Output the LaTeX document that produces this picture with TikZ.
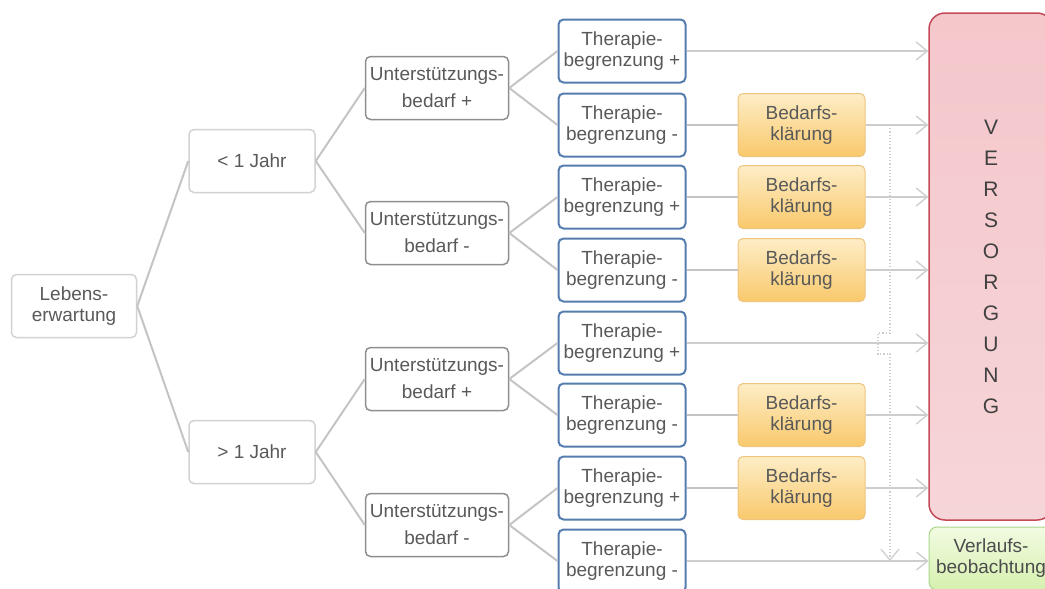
\documentclass[tikz,border=0pt]{standalone}
\usepackage{fontspec}
\setmainfont{Liberation Sans}
\usetikzlibrary{arrows.meta}
\usetikzlibrary{positioning}

\definecolor{txtgrey}{HTML}{595959}
\definecolor{linegrey}{HTML}{C4C4C4}
\definecolor{arrowgrey}{HTML}{CDCDCD}
\definecolor{lightframe}{HTML}{D2D2D2}
\definecolor{darkframe}{HTML}{8E8E8E}
\definecolor{blueframe}{HTML}{557CAE}
\definecolor{bedtop}{HTML}{FDEDC6}
\definecolor{bedbottom}{HTML}{F9C96C}
\definecolor{bedframe}{HTML}{EEC47E}
\definecolor{versred}{HTML}{C44A58}
\definecolor{verstop}{HTML}{F4C7CB}
\definecolor{versmid}{HTML}{E8949B}
\definecolor{versbottom}{HTML}{F6D5D8}
\definecolor{verltop}{HTML}{F1FBE2}
\definecolor{verlbottom}{HTML}{D6F0AE}
\definecolor{verlframe}{HTML}{A9D68A}

\begin{document}
\begin{tikzpicture}[
        x=1pt, y=-1pt, >={Straight Barb[length=11pt,width=18pt]},
        box/.style={rounded corners=5pt, align=center, minimum height=63pt,
            inner sep=1pt, text=txtgrey, font=\fontsize{19}{21}\selectfont},
        greybox/.style={box, draw=lightframe, line width=1.5pt, minimum width=126pt},
        ubox/.style={box, draw=darkframe, line width=1.5pt, minimum width=143pt,
            font=\fontsize{19}{27}\selectfont},
        therabox/.style={box, draw=blueframe, line width=2pt, minimum width=127pt},
        bedbox/.style={box, draw=bedframe, line width=1pt, minimum width=127pt,
            top color=bedtop, bottom color=bedbottom},
        tree/.style={linegrey, line width=2pt},
        flow/.style={arrowgrey, line width=1.3pt, ->},
        dotline/.style={arrowgrey, line width=1.2pt, dotted, ->},
    ]

    \useasboundingbox (0,0) rectangle (1045,589);
    \clip (0,0) rectangle (1045,589);

    \node[greybox, minimum width=125pt] (leb) at (74,306) {Lebens-\\erwartung};
    \node[greybox] (j1) at (252,161) {< 1 Jahr};
    \node[greybox] (j2) at (252,452) {> 1 Jahr};

    \foreach \i/\y/\s in {1/88/+, 2/233/-, 3/379/+, 4/525/-}
        \node[ubox] (u\i) at (437,\y) {Unterstützungs-\\bedarf \s};

    \foreach \i/\y/\s in {1/51/+, 2/125/-, 3/197/+, 4/270/-, 5/343/+, 6/415/-, 7/488/+, 8/561/-}
        \node[therabox] (t\i) at (622,\y) {Therapie-\\begrenzung \s};

    \foreach \i in {2, 3, 4, 6, 7}
        \node[bedbox, right=51pt of t\i] (b\i) {Bedarfs-\\klärung};

    \node[box, draw=versred, line width=1.5pt, rounded corners=16pt,
          minimum width=124pt, minimum height=507pt,
          top color=verstop, middle color=versmid, bottom color=versbottom,
          text=black!75, font=\fontsize{21}{31}\selectfont] (vers) at (991,266.5)
          {V\\E\\R\\S\\O\\R\\G\\U\\N\\G};
    \node[box, draw=verlframe, line width=1pt, rounded corners=8pt, minimum width=124pt,
          top color=verltop, bottom color=verlbottom, text=black!70] (verl) at (991,558.5)
          {Verlaufs-\\beobachtung};

    \draw[tree] (leb.east) -- (j1.west);
    \draw[tree] (leb.east) -- (j2.west);
    \draw[tree] (j1.east) -- (u1.west);
    \draw[tree] (j1.east) -- (u2.west);
    \draw[tree] (j2.east) -- (u3.west);
    \draw[tree] (j2.east) -- (u4.west);
    \foreach \u/\a/\b in {1/1/2, 2/3/4, 3/5/6, 4/7/8}
    {
        \draw[tree] (u\u.east) -- (t\a.west);
        \draw[tree] (u\u.east) -- (t\b.west);
    }

    \foreach \i in {2, 3, 4, 6, 7}
    {
        \draw[tree, line width=1.6pt] (t\i.east) -- (b\i.west);
        \draw[flow] (b\i.east) -- (b\i.east -| vers.west);
    }
    \draw[flow] (t1.east) -- (t1.east -| vers.west);
    \draw[flow] (t5.east) -- (t5.east -| vers.west);
    \draw[flow] (t8.east) -- (t8.east -| verl.west);

    \coordinate (dtop) at (890,125);
    \coordinate (dend) at (890,561);
    \draw[dotline] (dtop) -- ++(0,208) -- ++(-12,0) -- ++(0,21) -- ++(12,0) -- (dend);

\end{tikzpicture}
\end{document}
